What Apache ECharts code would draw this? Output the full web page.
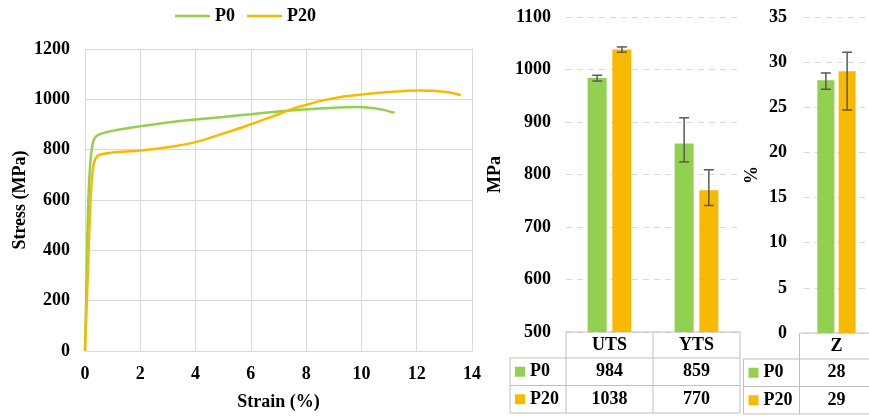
<!DOCTYPE html>
<html>
<head>
<meta charset="utf-8">
<script src="https://cdn.jsdelivr.net/npm/echarts@6/dist/echarts.min.js"></script>
<style>
  html, body { margin: 0; padding: 0; background: #fff; }
  #chart { width: 869px; height: 416px; }
</style>
</head>
<body>
<div id="chart"></div>
<script>
// Stress–strain curves, [strain %, stress MPa]
const curveP0 = [
  [0, 0], [0.06, 300], [0.12, 600], [0.2, 760], [0.28, 825], [0.36, 848], [0.5, 860],
  [0.8, 870], [1.2, 879], [2, 893], [3, 908], [4, 920], [5, 930], [6, 941], [7, 952],
  [8, 961], [9, 967], [9.8, 970], [10.4, 966], [10.8, 958], [11.2, 946]
];
const curveP20 = [
  [0, 0], [0.1, 300], [0.2, 600], [0.28, 720], [0.36, 760], [0.45, 775], [0.6, 782],
  [1, 789], [2, 797], [3, 810], [4, 830], [4.8, 857], [5.4, 878], [6, 901], [6.8, 932],
  [7.4, 958], [8, 978], [8.5, 993], [9.2, 1008], [10, 1019], [11, 1029], [12, 1035],
  [12.6, 1034], [13.2, 1027], [13.6, 1016]
];
const seriesNames = ['P0', 'P20'];

// Strength (MPa)
const strengthCats = ['UTS', 'YTS'];
const strengthP0 = [984, 859];
const strengthP20 = [1038, 770];
const strengthErrP0 = [[978, 989], [824, 908]];
const strengthErrP20 = [[1033, 1043], [741, 809]];

// Elongation (%)
const elongCats = ['Z'];
const elongP0 = [28];
const elongP20 = [29];
const elongErrP0 = [[27.0, 28.8]];
const elongErrP20 = [[24.7, 31.1]];

const GREEN = '#92D050';
const ORANGE = '#F8BA00';
const FONT = '"Liberation Serif", "Times New Roman", serif';
const GRID_LINE = '#d9d9d9';
const TABLE_LINE = '#bfbfbf';

const chart = echarts.init(document.getElementById('chart'), null, { renderer: 'canvas' });

const textBold = { fontFamily: FONT, fontWeight: 'bold', fontSize: 18, color: '#000' };
const plainNum = v => String(v);

function errorSeries(gridAxis, errs, side, barW, gapRatio) {
  const shift = side * (barW + barW * gapRatio) / 2;
  return {
    type: 'custom',
    xAxisIndex: gridAxis,
    yAxisIndex: gridAxis,
    silent: true,
    z: 5,
    data: errs.map((e, i) => [i, e[0], e[1]]),
    renderItem(params, api) {
      const c = api.value(0);
      const lo = api.coord([c, api.value(1)]);
      const hi = api.coord([c, api.value(2)]);
      const x = lo[0] + shift;
      const cap = 5;
      const style = { stroke: '#595959', lineWidth: 1.5 };
      return {
        type: 'group',
        children: [
          { type: 'line', shape: { x1: x, y1: hi[1], x2: x, y2: lo[1] }, style },
          { type: 'line', shape: { x1: x - cap, y1: hi[1], x2: x + cap, y2: hi[1] }, style },
          { type: 'line', shape: { x1: x - cap, y1: lo[1], x2: x + cap, y2: lo[1] }, style }
        ]
      };
    }
  };
}

const option = {
  backgroundColor: '#fff',
  animation: false,
  legend: {
    data: seriesNames,
    left: 175,
    top: 7,
    padding: 0,
    icon: 'rect',
    itemWidth: 35,
    itemHeight: 2.5,
    itemGap: 12,
    textStyle: textBold
  },
  grid: [
    { left: 85, top: 49, width: 387, height: 306 },
    { left: 566, top: 17, width: 174, height: 315 },
    { left: 804, top: 17, width: 74, height: 316 }
  ],
  xAxis: [
    {
      gridIndex: 0, type: 'value', min: 0, max: 14, interval: 2,
      name: 'Strain (%)', nameLocation: 'middle', nameGap: 42, nameTextStyle: textBold,
      axisLine: { show: false }, axisTick: { show: false },
      axisLabel: Object.assign({ margin: 14, formatter: plainNum }, textBold),
      splitLine: { show: true, lineStyle: { color: GRID_LINE, width: 1 } }
    },
    {
      gridIndex: 1, type: 'category', data: strengthCats,
      axisLine: { show: false }, axisTick: { show: false }, axisLabel: { show: false },
      splitLine: { show: false }
    },
    {
      gridIndex: 2, type: 'category', data: elongCats,
      axisLine: { show: false }, axisTick: { show: false }, axisLabel: { show: false },
      splitLine: { show: false }
    }
  ],
  yAxis: [
    {
      gridIndex: 0, type: 'value', min: 0, max: 1200, interval: 200,
      name: 'Stress (MPa)', nameLocation: 'middle', nameGap: 56, nameTextStyle: textBold,
      axisLine: { show: false }, axisTick: { show: false },
      axisLabel: Object.assign({ margin: 15, formatter: plainNum }, textBold),
      splitLine: { show: true, lineStyle: { color: GRID_LINE, width: 1 } }
    },
    {
      gridIndex: 1, type: 'value', min: 500, max: 1100, interval: 100,
      name: 'MPa', nameLocation: 'middle', nameGap: 62, nameTextStyle: textBold,
      axisLine: { show: false }, axisTick: { show: false },
      axisLabel: Object.assign({ margin: 15, formatter: plainNum }, textBold),
      splitLine: { show: true, lineStyle: { color: GRID_LINE, width: 1, type: [6, 5] } }
    },
    {
      gridIndex: 2, type: 'value', min: 0, max: 35, interval: 5,
      name: '%', nameLocation: 'middle', nameGap: 43, nameTextStyle: textBold,
      axisLine: { show: false }, axisTick: { show: false },
      axisLabel: Object.assign({ margin: 17, formatter: plainNum }, textBold),
      splitLine: { show: true, lineStyle: { color: GRID_LINE, width: 1, type: [6, 5] } }
    }
  ],
  series: [
    {
      name: 'P0', type: 'line', xAxisIndex: 0, yAxisIndex: 0, data: curveP0,
      smooth: 0.3, symbol: 'none', itemStyle: { color: GREEN },
      lineStyle: { color: GREEN, width: 2.5 }
    },
    {
      name: 'P20', type: 'line', xAxisIndex: 0, yAxisIndex: 0, data: curveP20,
      smooth: 0.3, symbol: 'none', itemStyle: { color: ORANGE },
      lineStyle: { color: ORANGE, width: 2.5 }
    },
    {
      name: 'P0 strength', type: 'bar', xAxisIndex: 1, yAxisIndex: 1, data: strengthP0,
      barWidth: 19, barGap: '30%', itemStyle: { color: GREEN }
    },
    {
      name: 'P20 strength', type: 'bar', xAxisIndex: 1, yAxisIndex: 1, data: strengthP20,
      barWidth: 19, barGap: '30%', itemStyle: { color: ORANGE }
    },
    errorSeries(1, strengthErrP0, -1, 19, 0.3),
    errorSeries(1, strengthErrP20, 1, 19, 0.3),
    {
      name: 'P0 elongation', type: 'bar', xAxisIndex: 2, yAxisIndex: 2, data: elongP0,
      barWidth: 17, barGap: '25%', itemStyle: { color: GREEN }
    },
    {
      name: 'P20 elongation', type: 'bar', xAxisIndex: 2, yAxisIndex: 2, data: elongP20,
      barWidth: 17, barGap: '25%', itemStyle: { color: ORANGE }
    },
    errorSeries(2, elongErrP0, -1, 17, 0.25),
    errorSeries(2, elongErrP20, 1, 17, 0.25)
  ]
};

chart.setOption(option);

// Data tables under the bar panels
function buildTable(axisIdx, cats, valsP0, valsP20, yMinVal, legendColW) {
  const els = [];
  const top = chart.convertToPixel({ yAxisIndex: axisIdx }, yMinVal);
  const centers = cats.map(c => chart.convertToPixel({ xAxisIndex: axisIdx }, c));
  const colW = cats.length > 1 ? centers[1] - centers[0] : option.grid[axisIdx].width;
  const x0 = centers[0] - colW / 2;
  const x1 = centers[centers.length - 1] + colW / 2;
  const xl = x0 - legendColW;
  const rowH = [26, 27.5, 27.5];
  const y1 = top + rowH[0];
  const y2 = y1 + rowH[1];
  const y3 = y2 + rowH[2];
  const line = (ax, ay, bx, by) => ({
    type: 'line', silent: true,
    shape: { x1: ax, y1: ay, x2: bx, y2: by },
    style: { stroke: TABLE_LINE, lineWidth: 1 }
  });
  els.push(line(x0, top, x1, top));
  els.push(line(xl, y1, x1, y1));
  els.push(line(xl, y2, x1, y2));
  els.push(line(xl, y3, x1, y3));
  els.push(line(xl, y1, xl, y3));
  els.push(line(x0, top, x0, y3));
  centers.forEach(c => els.push(line(c + colW / 2, top, c + colW / 2, y3)));
  const text = (str, x, y, align) => ({
    type: 'text', silent: true,
    style: {
      text: str, x, y, align: align || 'center', verticalAlign: 'middle',
      fill: '#000', font: 'bold 18px ' + FONT
    }
  });
  cats.forEach((c, i) => {
    els.push(text(c, centers[i], top + rowH[0] / 2));
    els.push(text(String(valsP0[i]), centers[i], y1 + rowH[1] / 2));
    els.push(text(String(valsP20[i]), centers[i], y2 + rowH[2] / 2));
  });
  [[seriesNames[0], GREEN, y1 + rowH[1] / 2], [seriesNames[1], ORANGE, y2 + rowH[2] / 2]].forEach(([n, col, cy]) => {
    els.push({ type: 'rect', silent: true, shape: { x: xl + 5, y: cy - 5, width: 10, height: 10 }, style: { fill: col } });
    els.push(text(n, xl + 20, cy, 'left'));
  });
  return els;
}

chart.setOption({
  graphic: [].concat(
    buildTable(1, strengthCats, strengthP0, strengthP20, 500, 56),
    buildTable(2, elongCats, elongP0, elongP20, 0, 56)
  )
});
</script>
</body>
</html>
